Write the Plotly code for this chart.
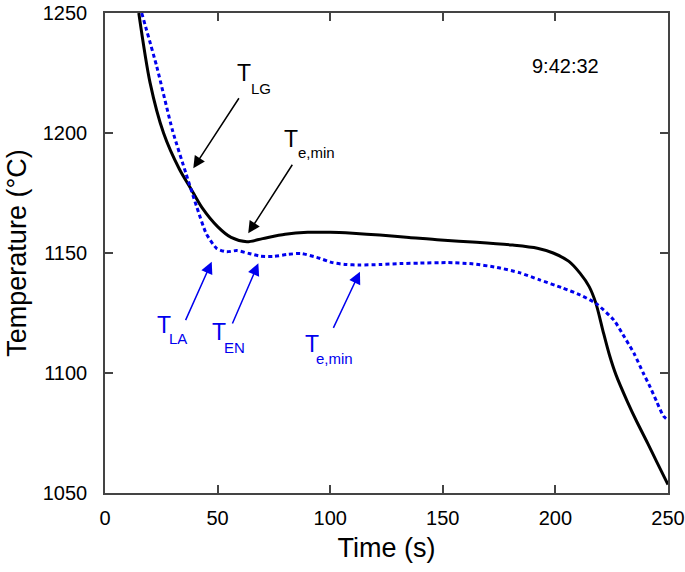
import plotly.graph_objects as go

# ---- data ----
black_t = [15, 20, 26, 33, 38, 43, 50, 56, 63, 70, 80, 90, 100, 110, 122, 135, 149,
           165, 181, 192, 199, 206, 211, 215, 218, 221, 224, 227, 232, 236, 241, 245, 250]
black_T = [1250, 1221, 1200, 1185, 1177, 1169, 1161, 1156.5, 1154.7, 1156, 1157.8, 1158.6,
           1158.6, 1158.2, 1157.5, 1156.5, 1155.4, 1154.5, 1153.3, 1152, 1150, 1146.5, 1141.5,
           1136, 1129, 1118, 1107.5, 1099, 1088, 1080, 1070.7, 1063, 1053.5]

blue_t = [16.3, 23, 30, 36, 40.7, 45, 49.6, 54, 58.5, 64, 69, 75, 81, 87, 94, 101, 107, 113,
          122, 131, 140, 152, 163, 174, 184, 193, 203, 211, 218, 226, 230, 235, 239, 242, 245,
          248, 250]
blue_T = [1250, 1227.6, 1201, 1183, 1169.3, 1158, 1151.9, 1150.5, 1151, 1149.8, 1148.7,
          1148.6, 1149.4, 1149.8, 1148.2, 1146, 1145.2, 1145, 1145.2, 1145.6, 1145.8, 1146,
          1145.5, 1144, 1141.8, 1138.8, 1135.5, 1132.5, 1129, 1122, 1116, 1108, 1100, 1094.3,
          1088, 1082, 1080.4]

x_ticks = [0, 50, 100, 150, 200, 250]
y_ticks = [1050, 1100, 1150, 1200, 1250]

# annotation labels: (main, subscript, color, main pos, sub pos, arrow tail, arrow head)
labels = [
    ("T", "LG", "black", (61.7, 1224.8), (69.3, 1218.6), (59.9, 1215.1), (39.2, 1185.3)),
    ("T", "e,min", "black", (82.6, 1197.3), (93.7, 1191.7), (83.6, 1187.4), (63.6, 1158.2)),
    ("T", "LA", "#0000ee", (26.0, 1120.0), (32.6, 1114.4), (35.5, 1121.4), (47.4, 1146.4)),
    ("T", "EN", "#0000ee", (50.4, 1117.1), (57.5, 1110.6), (56.3, 1120.0), (68.1, 1145.7)),
    ("T", "e,min", "#0000ee", (91.7, 1111.9), (102.1, 1106.0), (101.1, 1118.2), (113.2, 1142.2)),
]
time_label = "9:42:32"
time_pos = (204.3, 1228)

FONT = "Liberation Sans, Arial, sans-serif"

fig = go.Figure()
fig.add_trace(go.Scatter(x=black_t, y=black_T, mode="lines",
                         line=dict(color="black", width=3, shape="spline", smoothing=0.8),
                         showlegend=False, cliponaxis=True))
fig.add_trace(go.Scatter(x=blue_t, y=blue_T, mode="lines",
                         line=dict(color="#0000ee", width=3, dash="4px,3px", shape="spline",
                                   smoothing=0.6),
                         showlegend=False, cliponaxis=True))

ann = []
for main, sub, col, mp, sp, tail, head in labels:
    ann.append(dict(x=mp[0], y=mp[1], xref="x", yref="y", text=main, showarrow=False,
                    font=dict(family=FONT, size=23, color=col)))
    ann.append(dict(x=sp[0], y=sp[1], xref="x", yref="y", text=sub, showarrow=False,
                    font=dict(family=FONT, size=15, color=col)))
    ann.append(dict(x=head[0], y=head[1], ax=tail[0], ay=tail[1], xref="x", yref="y",
                    axref="x", ayref="y", text="", showarrow=True, arrowhead=2,
                    arrowsize=1.6, arrowwidth=1.5, arrowcolor=col, standoff=0))
ann.append(dict(x=time_pos[0], y=time_pos[1], xref="x", yref="y", text=time_label,
                showarrow=False, font=dict(family=FONT, size=20, color="black")))

axis_common = dict(showgrid=False, zeroline=False, showline=True, linecolor="#444",
                   linewidth=1.5, mirror="ticks", ticks="inside", ticklen=8, tickwidth=1.5,
                   tickcolor="#444", automargin=False,
                   tickfont=dict(family=FONT, size=20, color="black"))

fig.update_layout(
    width=685, height=572,
    margin=dict(l=105, r=17, t=13, b=79),
    paper_bgcolor="white", plot_bgcolor="white",
    xaxis=dict(range=[0, 250], tickvals=x_ticks, ticktext=[str(v) for v in x_ticks],
               ticklabelstandoff=6,
               title=dict(text="Time (s)", font=dict(family=FONT, size=27, color="black"),
                          standoff=10),
               **axis_common),
    yaxis=dict(range=[1050, 1250], tickvals=y_ticks, ticktext=[str(v) for v in y_ticks],
               ticklabelstandoff=12,
               title=dict(text="Temperature (°C)", font=dict(family=FONT, size=27, color="black"),
                          standoff=8),
               **axis_common),
    annotations=ann,
)

fig.write_html("out.html", config={"displayModeBar": False},
               post_script="document.body.style.margin='0';document.body.style.overflow='hidden';")
